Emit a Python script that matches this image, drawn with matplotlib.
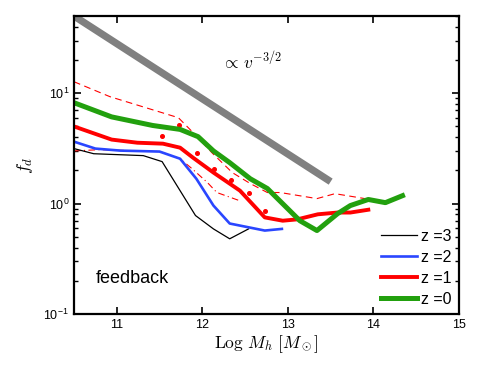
import matplotlib
matplotlib.use("Agg")
import matplotlib.pyplot as plt
from matplotlib.ticker import FixedLocator, FixedFormatter, LogLocator, NullFormatter

# data
x_z0 = [10.5, 10.94, 11.42, 11.74, 11.95, 12.13, 12.32, 12.56, 12.76, 13.14, 13.34, 13.58, 13.73, 13.94, 14.14, 14.34]
y_z0 = [8.2, 6.1, 5.1, 4.7, 4.04, 3.0, 2.35, 1.68, 1.37, 0.70, 0.57, 0.81, 0.96, 1.09, 1.02, 1.18]

x_z1 = [10.5, 10.94, 11.24, 11.54, 11.74, 11.89, 12.13, 12.44, 12.73, 12.94, 13.11, 13.35, 13.58, 13.73, 13.94]
y_z1 = [5.0, 3.8, 3.56, 3.49, 3.21, 2.61, 1.91, 1.31, 0.75, 0.70, 0.72, 0.80, 0.83, 0.83, 0.88]

x_z2 = [10.5, 10.75, 11.04, 11.5, 11.74, 11.93, 12.13, 12.32, 12.73, 12.93]
y_z2 = [3.64, 3.15, 3.02, 2.96, 2.55, 1.68, 0.96, 0.66, 0.57, 0.59]

x_z3 = [10.5, 10.73, 11.31, 11.53, 11.92, 12.13, 12.32, 12.54]
y_z3 = [3.15, 2.83, 2.72, 2.40, 0.78, 0.59, 0.48, 0.59]

x_up = [10.5, 10.92, 11.72, 11.95, 12.11, 12.35, 12.56, 12.76, 12.91, 13.34, 13.55, 13.9]
y_up = [12.7, 9.3, 6.0, 3.96, 2.9, 1.91, 1.52, 1.26, 1.26, 1.11, 1.23, 1.11]

x_lo = [10.5, 10.8, 11.5, 11.74, 11.88, 12.06, 12.17, 12.44]
y_lo = [3.0, 3.08, 2.96, 2.55, 2.07, 1.55, 1.26, 1.06]

x_dot = [11.53, 11.73, 11.94, 12.14, 12.34, 12.54, 12.73]
y_dot = [4.12, 5.19, 2.9, 2.07, 1.65, 1.26, 0.86]

x_ref = [10.5, 13.5]
y_ref = [50.0, 50.0 * 10 ** (-1.5)]

labels = ["z =3", "z =2", "z =1", "z =0"]
xticks = [11, 12, 13, 14, 15]
yticks = [0.1, 1, 10]
yticklabels = [r"$10^{-1}$", r"$10^{0}$", r"$10^{1}$"]

plt.rcParams["font.family"] = ["Liberation Sans", "DejaVu Sans"]
plt.rcParams["mathtext.fontset"] = "custom"
plt.rcParams["mathtext.rm"] = "Liberation Sans"
plt.rcParams["mathtext.it"] = "Liberation Sans:italic"

fig = plt.figure(figsize=(4.91, 3.69), dpi=100)
ax = fig.add_axes([0.1507, 0.149, 0.7841, 0.8076])

ax.plot(x_ref, y_ref, color="#808080", lw=5.2, solid_capstyle="butt")
ax.plot(x_up, y_up, color="red", lw=0.8, ls=(0, (6, 4)))
ax.plot(x_lo, y_lo, color="red", lw=0.8, ls=(0, (6, 3, 1, 3)))
ax.plot(x_dot, y_dot, ls="none", marker="o", ms=2.6, color="red")
l3, = ax.plot(x_z3, y_z3, color="black", lw=0.9)
l2, = ax.plot(x_z2, y_z2, color="#2a46ff", lw=1.9)
l1, = ax.plot(x_z1, y_z1, color="#ff0000", lw=2.8)
l0, = ax.plot(x_z0, y_z0, color="#22a00e", lw=3.6)

ax.set_yscale("log")
ax.set_xlim(10.5, 15)
ax.set_ylim(0.1, 50)

ax.xaxis.set_major_locator(FixedLocator(xticks))
ax.yaxis.set_major_locator(FixedLocator(yticks))
ax.yaxis.set_major_formatter(FixedFormatter(yticklabels))
ax.yaxis.set_minor_locator(LogLocator(base=10, subs=range(2, 10)))
ax.yaxis.set_minor_formatter(NullFormatter())
ax.tick_params(which="both", direction="in", top=True, right=True, labelsize=9)
ax.tick_params(which="major", length=5, width=1.2)
ax.tick_params(which="minor", length=3, width=1.0)
for s in ax.spines.values():
    s.set_linewidth(1.6)

ax.set_xlabel(r"$\mathrm{Log}\ M_h\ [M_\odot]$", fontsize=12.5, math_fontfamily="cm", labelpad=2)
ax.set_ylabel(r"$f_d$", fontsize=13, math_fontfamily="cm", labelpad=6)

ax.text(10.76, 0.21, "feedback", fontsize=13, ha="left", va="center")
ax.text(12.57, 19.5, r"$\propto\, v^{-3/2}$", fontsize=12.5, math_fontfamily="cm", ha="center", va="center")

ax.legend([l3, l2, l1, l0], labels, loc="lower right", frameon=False, fontsize=11.5,
          handlelength=2.2, handletextpad=0.3, labelspacing=0.38, borderaxespad=0.05)

fig.savefig("out.png", dpi=100)
